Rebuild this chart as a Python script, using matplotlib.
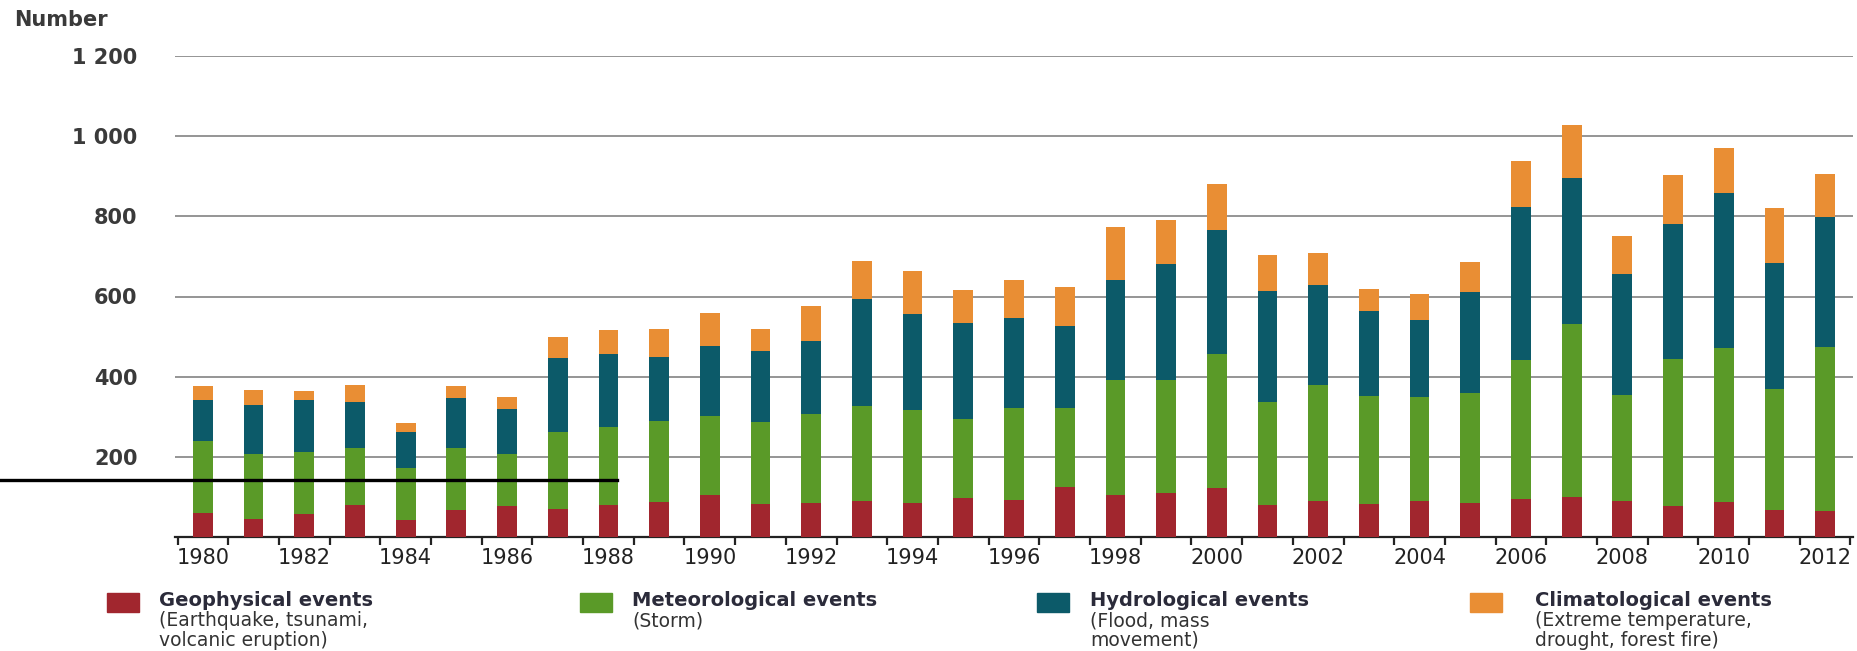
import matplotlib
matplotlib.use('Agg')
import matplotlib.pyplot as plt
from matplotlib.patches import Rectangle
from matplotlib.lines import Line2D
from matplotlib.ticker import MultipleLocator
import numpy as np

years = list(range(1980, 2013))

# number of events per year
geophysical = [60, 44, 58, 79, 43, 67, 77, 70, 79, 87, 104, 83, 85, 90, 86, 97, 93,
               125, 106, 110, 121, 79, 91, 83, 89, 86, 96, 100, 90, 77, 87, 68, 65]
meteorological = [179, 163, 153, 143, 128, 155, 130, 193, 196, 203, 197, 203, 222, 238, 231, 197, 229,
                  197, 286, 281, 336, 258, 287, 268, 260, 274, 345, 432, 265, 366, 385, 300, 409]
hydrological = [104, 122, 130, 115, 91, 125, 113, 183, 181, 159, 176, 178, 181, 266, 239, 239, 224,
                205, 250, 289, 308, 276, 250, 214, 193, 251, 382, 364, 302, 339, 385, 316, 324]
climatological = [34, 37, 24, 42, 23, 30, 30, 52, 60, 69, 83, 56, 89, 94, 107, 84, 94,
                  96, 131, 111, 116, 90, 81, 53, 65, 75, 114, 131, 94, 120, 113, 138, 108]

series = [geophysical, meteorological, hydrological, climatological]
colors = ['#a1262e', '#5a9a28', '#0c5a69', '#e98e34']
titles = ['Geophysical events', 'Meteorological events', 'Hydrological events', 'Climatological events']
descriptions = [['(Earthquake, tsunami,', 'volcanic eruption)'], ['(Storm)'],
                ['(Flood, mass', 'movement)'], ['(Extreme temperature,', 'drought, forest fire)']]

yticks = [200, 400, 600, 800, 1000, 1200]
ytick_labels = ['200', '400', '600', '800', '1 000', '1 200']

W, H = 1858, 651
plt.rcParams['font.family'] = ['DejaVu Sans']

fig = plt.figure(figsize=(W / 100, H / 100), dpi=100)
fig.patch.set_facecolor('white')

# axes placed by pixel positions of the reference
left, right, top, base = 175, 1853, 56, 537
ax = fig.add_axes([left / W, 1 - base / H, (right - left) / W, (base - top) / H])

bottom = np.zeros(len(years))
for vals, col in zip(series, colors):
    ax.bar(years, vals, width=0.39, bottom=bottom, color=col, zorder=3)
    bottom += np.array(vals)

ax.set_xlim(1979.45, 2012.55)
ax.set_ylim(0, 1200)

ax.set_yticks(yticks)
ax.set_yticklabels(ytick_labels, fontsize=15, fontweight='bold', color='#3a3a3a')
ax.tick_params(axis='y', length=0, pad=27)
ax.yaxis.grid(True, color='#8c8c8c', linewidth=1.3, zorder=0)

ax.set_xticks(years[::2])
ax.set_xticklabels([str(y) for y in years[::2]], fontsize=15, color='#222222')
ax.xaxis.set_minor_locator(MultipleLocator(1, offset=0.5))
ax.tick_params(axis='x', which='major', length=0, pad=8)
ax.tick_params(axis='x', which='minor', length=6, width=1.6, color='#222222', direction='out')

for s in ['left', 'right', 'top']:
    ax.spines[s].set_visible(False)
ax.spines['bottom'].set_color('#222222')
ax.spines['bottom'].set_linewidth(1.6)

fig.text(14 / W, 1 - 20 / H, 'Number', fontsize=15, fontweight='bold', color='#3a3a3a',
         ha='left', va='center')

# legend drawn by hand, four columns
sq_x = [107, 580, 1037, 1470]
txt_x = [159, 632, 1090, 1535]
for sx, tx, col, t, d in zip(sq_x, txt_x, colors, titles, descriptions):
    fig.add_artist(Rectangle((sx / W, 1 - 612 / H), 32 / W, 19 / H, color=col,
                             transform=fig.transFigure))
    fig.text(tx / W, 1 - 601 / H, t, fontsize=14, fontweight='bold', color='#2b2b3a',
             ha='left', va='center')
    for i, line in enumerate(d):
        fig.text(tx / W, 1 - (621 + 19 * i) / H, line, fontsize=13.5, color='#333333',
                 ha='left', va='center')

# stray black rule across the lower left of the reference
fig.add_artist(Line2D([0, 617 / W], [1 - 480 / H, 1 - 480 / H], color='black', linewidth=2.4,
                      transform=fig.transFigure))

fig.savefig('out.png', dpi=100)
